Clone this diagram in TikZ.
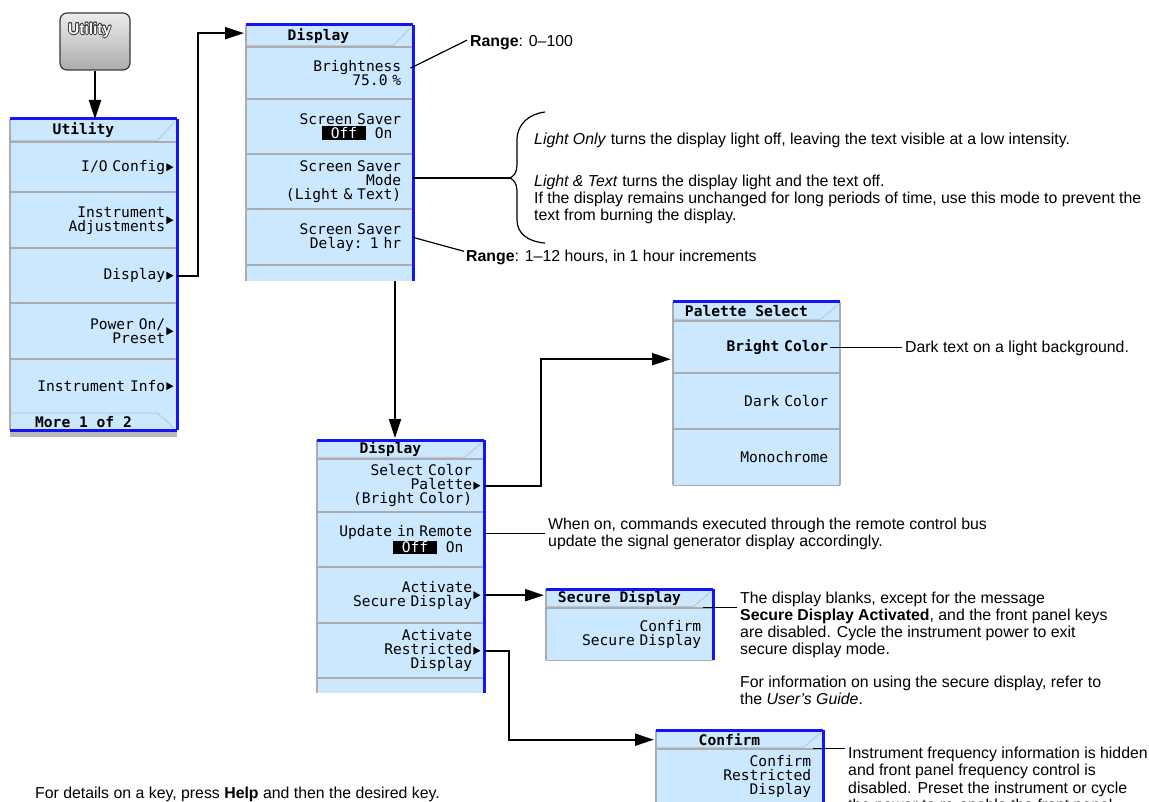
\documentclass[tikz,border=0pt]{standalone}
\usepackage{fontspec}
\setmainfont{Liberation Sans}
\newfontfamily\skmono{DejaVu Sans Mono}
\usetikzlibrary{arrows.meta,calc}
\definecolor{skblue}{RGB}{204,232,255}
\definecolor{skedge}{RGB}{20,20,245}
\definecolor{sksep}{RGB}{170,172,176}
\definecolor{sktab}{RGB}{190,200,210}
\newcommand\skfixsp{\spaceskip=\fontcharwd\font`\x\relax\xspaceskip=\spaceskip}
\newcommand\skfont{\skmono\fontsize{14.6}{14}\selectfont\skfixsp}
\newcommand\sktfont{\skmono\bfseries\fontsize{14.6}{14}\selectfont\skfixsp}
\newcommand\anfont{\fontsize{15.85}{17}\selectfont}
\newcommand\offon{{\setlength\fboxsep{0pt}\colorbox{black}{\textcolor{white}{\rule[-1.5pt]{0pt}{13.5pt}\hphantom{x}Off\hphantom{x}}}}\hphantom{x}On\hphantom{x}}
\newcommand\fl{\rule{0pt}{12pt}}
\newcommand\skframe[4]{%
  \draw[skleftl] (#1,#2) -- (#1,#4);
  \draw[skedgel] (#1,#2) -- (#3,#2);
  \draw[skedgel] (#3,#2) -- (#3,#4);}
\newcommand\sktri[1]{\fill ($(#1.east)+(-11,-4)$) -- ++(7,4) -- ++(-7,4) -- cycle;}
\newcommand\sksep[1]{\draw[sksepl] (#1.north west) -- (#1.north east);}
\newcommand\sktab[1]{\draw[sktabl] ($(#1.south west)+(1,-2)$) -- ($(#1.south east)+(-20,-2)$) -- ($(#1.north east)+(-3,3)$);}
\begin{document}
\begin{tikzpicture}[x=1pt,y=-1pt,
  skrow/.style={fill=skblue, text width=143pt, inner xsep=12pt, inner ysep=0pt, minimum width=167pt, minimum height=#1, anchor=north west, align=right, font=\skfont},
  skbar/.style={fill=skblue, inner sep=0pt, minimum width=167pt, minimum height=#1, anchor=north west},
  sklbl/.style={font=\sktfont, inner sep=0pt},
  skleftl/.style={draw=sksep, line width=1.5pt},
  skedgel/.style={draw=skedge, line width=3pt},
  sksepl/.style={draw=sksep, line width=1.6pt},
  sktabl/.style={draw=sktab, line width=1pt},
  conn/.style={line width=2pt, -{Triangle[length=19pt,width=12pt]}},
  link/.style={line width=2pt},
  ann/.style={line width=1.2pt},
  antext/.style={font=\anfont, inner sep=0pt, align=left},
  btnstyle/.style={rounded corners=7pt, minimum width=70pt, minimum height=57pt, top color=gray!15, bottom color=gray!65, draw=gray!45!black, line width=1.2pt},
  btntext/.style={font=\bfseries\fontsize{15.5}{15.5}\selectfont, inner sep=0pt, anchor=west}
]
\useasboundingbox (0,0) rectangle (1149,802);
\fill[white] (0,0) rectangle (1149,802);

% Utility hardkey
\node[btnstyle] (btn) at (95,41.5) {};
\foreach \dx/\dy [count=\i] in {0.8/0,-0.8/0,0/0.8,0/-0.8,0.6/0.6,-0.6/-0.6,0.6/-0.6,-0.6/0.6} {
  \node[btntext, text=gray!35!black] (btno\i) at (68+\dx,30.3+\dy) {Utility};
}
\node[btntext, text=gray!6] (btnl) at (68,30.3) {Utility};

% Utility menu
\node[skbar=23] (ut) at (10,119) {};
\node[skrow=50] (u1) at (10,142) {I/O Config};
\node[skrow=56] (u2) at (10,192) {Instrument\\Adjustments};
\node[skrow=55] (u3) at (10,248) {Display};
\node[skrow=56] (u4) at (10,303) {Power On/\\Preset};
\node[skrow=54] (u5) at (10,359) {Instrument Info};
\node[skbar=17] (uf) at (10,413) {};
\foreach \r in {u1,u2,u3,u4,u5} {\sksep{\r}}
\sktab{ut}
\draw[sktabl] ($(uf.north west)+(1,0)$) -- ($(uf.north east)+(-20,0)$) -- ($(uf.south east)+(-3,-2)$);
\fill[gray!55] (10,431.5) rectangle (177,436.5);
\skframe{10}{119}{177}{430}
\draw[skedgel] (10,430) -- (177,430);
\node[sklbl] (utl) at (83.5,130.5) {Utility};
\node[sklbl] (ufl) at (83.5,422) {More 1 of 2};
\foreach \r in {u1,u2,u3,u4,u5} {\sktri{\r}}

% Display menu 1
\node[skbar=22] (d1t) at (246,25) {};
\node[skrow=52] (d11) at (246,47) {Brightness\\75.0 \%};
\node[skrow=55] (d12) at (246,99) {Screen Saver\\\offon};
\node[skrow=55] (d13) at (246,154) {Screen Saver\\Mode\\(Light \& Text)};
\node[skrow=56] (d14) at (246,209) {Screen Saver\\Delay: 1 hr};
\node[skbar=16] (d1e) at (246,265) {};
\foreach \r in {d11,d12,d13,d14,d1e} {\sksep{\r}}
\sktab{d1t}
\skframe{246}{25}{413}{281}
\node[sklbl] (d1tl) at (318.5,36) {Display};

% Display menu 2
\node[skbar=19] (d2t) at (317,440) {};
\node[skrow=53] (d21) at (317,459) {Select Color\\Palette\\(Bright Color)};
\node[skrow=55] (d22) at (317,512) {Update in Remote\\\offon};
\node[skrow=56] (d23) at (317,567) {Activate\\Secure Display};
\node[skrow=55] (d24) at (317,623) {Activate\\Restricted\\Display};
\node[skbar=15] (d2e) at (317,678) {};
\foreach \r in {d21,d22,d23,d24,d2e} {\sksep{\r}}
\sktab{d2t}
\skframe{317}{440}{484}{693}
\node[sklbl] (d2tl) at (390.5,449.5) {Display};
\foreach \r in {d21,d23,d24} {\sktri{\r}}

% Palette Select
\node[skbar=19] (pst) at (673,302) {};
\node[skrow=52] (ps1) at (673,321) {\textbf{Bright Color}};
\node[skrow=56] (ps2) at (673,373) {Dark Color};
\node[skrow=56] (ps3) at (673,429) {Monochrome};
\foreach \r in {ps1,ps2,ps3} {\sksep{\r}}
\draw[sksepl] (ps3.south west) -- (ps3.south east);
\sktab{pst}
\draw[skleftl] (673,302) -- (673,485);
\draw[skleftl] (840,302) -- (840,485);
\draw[skedgel] (673,302) -- (840,302);
\node[sklbl] (pstl) at (746.5,311) {Palette Select};

% Secure Display
\node[skbar=19] (sdt) at (546,589) {};
\node[skrow=52] (sd1) at (546,608) {Confirm\\Secure Display};
\sksep{sd1}
\draw[sksepl] (sd1.south west) -- (sd1.south east);
\sktab{sdt}
\skframe{546}{589}{713}{660}
\node[sklbl] (sdtl) at (619.5,598.5) {Secure Display};

% Confirm
\node[skbar=19] (cft) at (656,730) {};
\node[skrow=55] (cf1) at (656,749) {Confirm\\Restricted\\Display};
\sksep{cf1}
\sktab{cft}
\skframe{656}{730}{823}{802}
\node[sklbl] (cftl) at (729.5,739.5) {Confirm};

% connectors
\draw[conn] (btn.south) -- (btn.south |- ut.north);
\draw[conn] (u3.east) -- ++(21,0) |- ($(d1t.west)+(-2,-3)$);
\draw[conn] ($(d1e.south west)+(149,0)$) -- ($(d2t.north west)+(78,-2)$);
\draw[conn] (d21.east) -- ++(57,0) |- ($(ps1.west)+(-2,12)$);
\draw[conn] (d23.east) -- ($(d23.east -| sdt.west)+(-2,0)$);
\draw[conn] (d24.east) -- ++(25,0) |- ($(cft.west)+(-2,0)$);

% annotations
\node[antext, anchor=base west] (rng1) at (470,47) {\textbf{Range}: 0\textendash100};
\draw[ann] ($(d11.east)+(-3,-5)$) -- ($(rng1.west)+(-3,-3)$);

\coordinate (bt) at (510,178);
\draw[link] (bt -| d13.east) -- (bt);
\draw[ann] (545,112) .. controls (529,114) and (517,124) .. (517,140) -- (517,165) .. controls (517,172) and (514,176) .. (bt) .. controls (514,180) and (517,184) .. (517,191) -- (517,220) .. controls (517,234) and (529,242) .. (545,243);
\node[antext, anchor=base west] (lo) at (534,145) {\textit{Light Only} turns the display light off, leaving the text visible at a low intensity.};
\node[antext, anchor=north west] (lt) at (534,174) {\fl\textit{Light \& Text} turns the display light and the text off.\\If the display remains unchanged for long periods of time, use this mode to prevent the\\text from burning the display.};

\node[antext, anchor=base west] (rng2) at (466,262) {\textbf{Range}: 1\textendash12 hours, in 1 hour increments};
\draw[ann] ($(d14.east)+(-1,0)$) -- ($(rng2.north west)+(-2,1)$);

\node[antext, anchor=base west] (dk) at (905,353) {Dark text on a light background.};
\draw[ann] ($(ps1.east)+(-10,0)$) -- ($(ps1.east -| dk.west)+(-3,0)$);

\node[antext, anchor=north west] (upd) at (548,517) {\fl When on, commands executed through the remote control bus\\update the signal generator display accordingly.};
\draw[ann] (upd.west -| d22.east) -- ($(upd.west)+(-3,0)$);

\node[antext, anchor=north west] (sdp) at (740,591) {\fl The display blanks, except for the message\\\textbf{Secure Display Activated}, and the front panel keys\\are disabled. Cycle the instrument power to exit\\secure display mode.};
\coordinate (sdc) at ($(sdt.south east)+(-10,-1)$);
\draw[ann] (sdc) -- ($(sdc -| sdp.west)+(-3,0)$);
\node[antext, anchor=north west] (sdq) at (740,675) {\fl For information on using the secure display, refer to\\the \textit{User’s Guide}.};

\node[antext, anchor=north west, font=\fontsize{15.85}{17.5}\selectfont] (cfp) at (848,746) {\fl Instrument frequency information is hidden\\and front panel frequency control is\\disabled. Preset the instrument or cycle\\the power to re-enable the front panel};
\coordinate (cfc) at ($(cft.south east)+(-10,-1)$);
\draw[ann] (cfc) -- ($(cfc -| cfp.west)+(-3,0)$);

\node[antext, anchor=base west] (help) at (35,798) {For details on a key, press \textbf{Help} and then the desired key.};
\end{tikzpicture}
\end{document}
